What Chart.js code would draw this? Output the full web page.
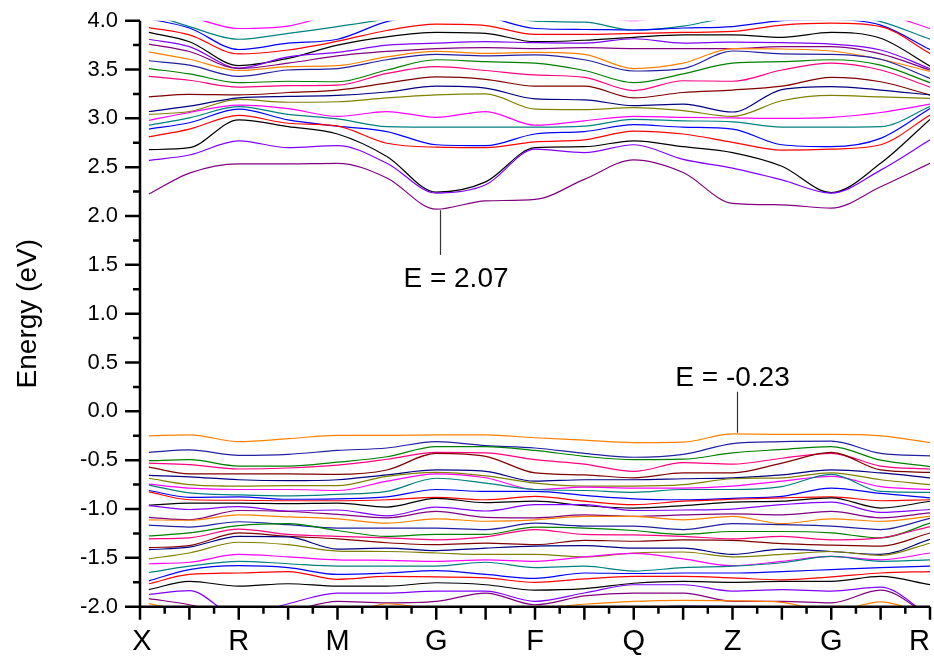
<!DOCTYPE html>
<html>
<head>
<meta charset="utf-8">
<title>Band structure</title>
<script src="https://cdn.jsdelivr.net/npm/chart.js@4.4.1/dist/chart.umd.min.js"></script>
<style>
  html, body { margin: 0; padding: 0; background: #fff; }
  #wrap { width: 934px; height: 660px; }
</style>
</head>
<body>
<div id="wrap"><canvas id="bandChart" width="934" height="660"></canvas></div>
<script>
// k-path sample positions (X=0 ... R=8) and high-symmetry labels
const kPath = [0.09, 0.5, 1, 1.5, 2, 2.5, 3, 3.5, 4, 4.5, 5, 5.5, 6, 6.5, 7, 7.5, 8];
const kLabels = ['X', 'R', 'M', 'G', 'F', 'Q', 'Z', 'G', 'R'];

// valence bands, topmost first (eV)
const valenceBands = [
  [-0.25, -0.24, -0.31, -0.28, -0.245, -0.245, -0.24, -0.24, -0.27, -0.295, -0.32, -0.315, -0.23, -0.235, -0.235, -0.25, -0.32],
  [-0.42, -0.395, -0.45, -0.44, -0.40, -0.375, -0.31, -0.35, -0.375, -0.43, -0.47, -0.44, -0.33, -0.31, -0.305, -0.43, -0.455],
  [-0.505, -0.495, -0.56, -0.56, -0.52, -0.465, -0.36, -0.36, -0.40, -0.46, -0.495, -0.49, -0.425, -0.39, -0.36, -0.50, -0.565],
  [-0.53, -0.545, -0.59, -0.58, -0.55, -0.49, -0.42, -0.425, -0.495, -0.54, -0.615, -0.525, -0.54, -0.48, -0.43, -0.56, -0.59],
  [-0.57, -0.64, -0.64, -0.64, -0.645, -0.60, -0.43, -0.46, -0.63, -0.65, -0.68, -0.63, -0.63, -0.53, -0.42, -0.60, -0.625],
  [-0.655, -0.67, -0.70, -0.71, -0.70, -0.65, -0.60, -0.615, -0.715, -0.70, -0.70, -0.69, -0.68, -0.65, -0.60, -0.63, -0.68],
  [-0.685, -0.75, -0.765, -0.76, -0.76, -0.665, -0.625, -0.66, -0.735, -0.765, -0.765, -0.75, -0.69, -0.68, -0.63, -0.70, -0.75],
  [-0.745, -0.785, -0.80, -0.80, -0.81, -0.715, -0.64, -0.68, -0.80, -0.775, -0.785, -0.785, -0.765, -0.715, -0.665, -0.77, -0.80],
  [-0.755, -0.835, -0.855, -0.865, -0.85, -0.82, -0.685, -0.735, -0.80, -0.81, -0.83, -0.80, -0.80, -0.77, -0.645, -0.82, -0.83],
  [-0.81, -0.88, -0.875, -0.90, -0.895, -0.875, -0.80, -0.82, -0.82, -0.86, -0.895, -0.905, -0.89, -0.87, -0.785, -0.84, -0.885],
  [-0.825, -0.905, -0.91, -0.915, -0.915, -0.905, -0.88, -0.905, -0.87, -0.92, -0.955, -0.92, -0.90, -0.885, -0.875, -0.915, -0.905],
  [-0.96, -0.94, -0.94, -0.945, -0.94, -0.98, -0.89, -0.935, -0.92, -0.965, -0.99, -0.965, -0.93, -0.92, -0.885, -0.99, -0.92],
  [-0.965, -1.005, -0.975, -1.02, -1.01, -1.07, -0.98, -1.02, -0.955, -0.955, -1.015, -1.01, -1.0, -0.955, -0.93, -1.035, -1.005],
  [-1.085, -1.11, -1.015, -1.025, -1.055, -1.09, -1.025, -1.085, -1.09, -1.06, -1.075, -1.06, -1.05, -1.06, -1.025, -1.09, -1.04],
  [-1.11, -1.115, -1.06, -1.08, -1.10, -1.145, -1.10, -1.125, -1.11, -1.075, -1.075, -1.11, -1.075, -1.15, -1.10, -1.125, -1.075],
  [-1.165, -1.185, -1.13, -1.16, -1.195, -1.195, -1.195, -1.21, -1.145, -1.175, -1.175, -1.21, -1.15, -1.16, -1.175, -1.21, -1.095],
  [-1.275, -1.245, -1.17, -1.15, -1.22, -1.28, -1.26, -1.26, -1.185, -1.195, -1.22, -1.26, -1.23, -1.23, -1.245, -1.295, -1.145],
  [-1.305, -1.295, -1.205, -1.26, -1.28, -1.295, -1.315, -1.285, -1.21, -1.26, -1.265, -1.28, -1.305, -1.28, -1.315, -1.295, -1.18],
  [-1.395, -1.375, -1.245, -1.28, -1.305, -1.345, -1.365, -1.35, -1.365, -1.32, -1.33, -1.315, -1.32, -1.355, -1.37, -1.38, -1.245],
  [-1.415, -1.39, -1.28, -1.285, -1.41, -1.40, -1.425, -1.40, -1.38, -1.375, -1.40, -1.40, -1.465, -1.41, -1.435, -1.465, -1.31],
  [-1.51, -1.45, -1.34, -1.365, -1.43, -1.435, -1.45, -1.465, -1.465, -1.49, -1.45, -1.44, -1.49, -1.465, -1.435, -1.475, -1.35],
  [-1.56, -1.545, -1.465, -1.49, -1.52, -1.525, -1.535, -1.52, -1.535, -1.49, -1.455, -1.51, -1.58, -1.535, -1.485, -1.52, -1.45],
  [-1.65, -1.585, -1.535, -1.56, -1.585, -1.585, -1.585, -1.545, -1.60, -1.585, -1.635, -1.60, -1.585, -1.55, -1.485, -1.535, -1.52],
  [-1.735, -1.62, -1.58, -1.60, -1.67, -1.655, -1.63, -1.67, -1.71, -1.655, -1.66, -1.655, -1.655, -1.64, -1.62, -1.60, -1.585],
  [-1.765, -1.67, -1.655, -1.64, -1.72, -1.69, -1.695, -1.705, -1.75, -1.715, -1.69, -1.69, -1.705, -1.725, -1.695, -1.655, -1.64],
  [-1.825, -1.74, -1.79, -1.765, -1.79, -1.79, -1.755, -1.775, -1.83, -1.815, -1.76, -1.74, -1.75, -1.74, -1.74, -1.69, -1.775],
  [-1.875, -1.835, -2.1, -1.97, -1.86, -1.86, -1.84, -1.84, -1.945, -1.86, -1.775, -1.775, -1.84, -1.825, -1.84, -1.80, -2.1],
  [-1.917, -1.98, -2.1, -2.05, -1.945, -1.96, -1.945, -1.86, -1.98, -1.89, -1.86, -1.86, -1.945, -1.945, -1.96, -1.83, -2.1],
  [-1.968, -2.05, -2.1, -2.1, -2.1, -1.97, -2.03, -2.05, -2.02, -1.975, -1.945, -1.935, -1.94, -1.955, -2.05, -1.95, -2.1],
  [-2.06, -2.08, -2.1, -2.1, -2.08, -2.05, -2.06, -2.04, -2.05, -2.03, -2.02, -1.995, -2.0, -2.02, -2.04, -2.06, -2.1]
];

// conduction bands, lowest first (eV)
const conductionBands = [
  [2.225, 2.44, 2.535, 2.535, 2.54, 2.39, 2.07, 2.155, 2.17, 2.375, 2.575, 2.445, 2.13, 2.115, 2.08, 2.30, 2.54],
  [2.57, 2.625, 2.77, 2.70, 2.72, 2.54, 2.235, 2.32, 2.685, 2.65, 2.73, 2.58, 2.49, 2.37, 2.235, 2.47, 2.78],
  [2.68, 2.70, 2.985, 2.915, 2.84, 2.61, 2.245, 2.35, 2.70, 2.71, 2.77, 2.71, 2.65, 2.51, 2.24, 2.54, 2.99],
  [2.81, 2.89, 3.03, 2.95, 2.92, 2.745, 2.705, 2.70, 2.76, 2.78, 2.87, 2.84, 2.755, 2.675, 2.685, 2.73, 3.035],
  [2.89, 2.955, 3.095, 2.985, 2.92, 2.865, 2.73, 2.72, 2.84, 2.865, 2.935, 2.91, 2.89, 2.73, 2.71, 2.795, 3.10],
  [2.93, 3.005, 3.12, 3.04, 2.995, 2.915, 2.91, 2.91, 2.91, 2.92, 2.99, 2.975, 2.965, 2.91, 2.91, 2.915, 3.12],
  [2.98, 3.06, 3.135, 3.10, 3.02, 3.07, 3.01, 3.07, 2.93, 2.975, 3.02, 3.01, 3.005, 3.0, 3.01, 3.06, 3.145],
  [3.04, 3.07, 3.195, 3.165, 3.17, 3.21, 3.24, 3.25, 3.095, 3.09, 3.11, 3.08, 3.02, 3.18, 3.235, 3.22, 3.205],
  [3.07, 3.125, 3.21, 3.225, 3.235, 3.27, 3.33, 3.31, 3.20, 3.19, 3.13, 3.145, 3.065, 3.295, 3.325, 3.29, 3.24],
  [3.22, 3.245, 3.24, 3.265, 3.29, 3.36, 3.425, 3.40, 3.33, 3.33, 3.21, 3.265, 3.29, 3.33, 3.42, 3.375, 3.24],
  [3.43, 3.39, 3.32, 3.335, 3.34, 3.46, 3.53, 3.49, 3.445, 3.42, 3.285, 3.385, 3.38, 3.495, 3.565, 3.495, 3.32],
  [3.51, 3.455, 3.365, 3.38, 3.375, 3.495, 3.60, 3.58, 3.565, 3.49, 3.365, 3.455, 3.565, 3.58, 3.60, 3.545, 3.365],
  [3.59, 3.545, 3.43, 3.495, 3.51, 3.60, 3.655, 3.64, 3.65, 3.60, 3.485, 3.51, 3.69, 3.66, 3.655, 3.605, 3.41],
  [3.68, 3.605, 3.49, 3.53, 3.54, 3.63, 3.685, 3.665, 3.675, 3.655, 3.51, 3.565, 3.715, 3.71, 3.69, 3.605, 3.48],
  [3.76, 3.685, 3.51, 3.565, 3.64, 3.685, 3.715, 3.725, 3.715, 3.725, 3.715, 3.715, 3.715, 3.735, 3.735, 3.66, 3.495],
  [3.81, 3.735, 3.515, 3.63, 3.675, 3.75, 3.77, 3.785, 3.775, 3.77, 3.815, 3.77, 3.78, 3.775, 3.76, 3.70, 3.51],
  [3.88, 3.785, 3.54, 3.615, 3.75, 3.835, 3.88, 3.87, 3.785, 3.80, 3.83, 3.855, 3.855, 3.83, 3.88, 3.82, 3.535],
  [3.93, 3.855, 3.66, 3.70, 3.79, 3.90, 3.965, 3.95, 3.86, 3.86, 3.87, 3.88, 3.89, 3.955, 3.975, 3.94, 3.665],
  [4.02, 3.925, 3.705, 3.77, 3.81, 3.99, 4.07, 4.04, 3.92, 3.91, 3.905, 3.925, 3.94, 4.0, 4.01, 3.955, 3.705],
  [4.075, 3.94, 3.81, 3.87, 3.94, 4.02, 4.14, 4.11, 3.995, 3.985, 3.905, 3.945, 4.04, 4.075, 4.075, 3.99, 3.81],
  [4.12, 4.04, 3.92, 3.945, 4.075, 4.14, 4.18, 4.18, 4.11, 4.06, 4.0, 4.075, 4.11, 4.11, 4.11, 4.075, 3.92]
];

// colour cycle, counted from the lowest band upwards
const bandColours = ['#2020A0', '#FF8000', '#800080', '#8000FF', '#000000', '#FF0000', '#0000FF',
                     '#008080', '#FF00FF', '#808000', '#000080', '#800000', '#FF0080', '#008000'];

const FONT = '"Liberation Sans", Arial, Helvetica, sans-serif';

// band edges that get an "E = ..." label
const cbm = conductionBands[0][kPath.indexOf(3)];
const vbm = valenceBands[0][kPath.indexOf(6)];

const allBands = valenceBands.slice().reverse().concat(conductionBands);

const datasets = allBands.map((band, i) => ({
  data: kPath.map((k, j) => ({ x: k, y: band[j] })),
  borderColor: bandColours[i % bandColours.length],
  borderWidth: 1.2,
  pointRadius: 0,
  fill: false,
  cubicInterpolationMode: 'monotone'
}));

// axis lines, major/minor ticks and the k-point names
const axisTicks = {
  id: 'axisTicks',
  afterDraw(chart) {
    const { ctx, chartArea: a, scales: { x, y } } = chart;
    ctx.save();
    ctx.strokeStyle = '#000';
    ctx.lineWidth = 2.5;
    ctx.beginPath();
    ctx.moveTo(a.left, a.top);
    ctx.lineTo(a.left, a.bottom);
    ctx.lineTo(a.right, a.bottom);
    ctx.stroke();

    ctx.lineWidth = 2.5;
    ctx.beginPath();
    for (let i = 0; i <= 24; i++) {
      const py = y.getPixelForValue(-2 + i * 0.25);
      const len = i % 2 === 0 ? 15 : 7;
      ctx.moveTo(a.left, py);
      ctx.lineTo(a.left - len, py);
    }
    for (let i = 0; i <= 32; i++) {
      const px = x.getPixelForValue(i * 0.25);
      const len = i % 2 === 0 ? 13 : 7;
      ctx.moveTo(px, a.bottom);
      ctx.lineTo(px, a.bottom + len);
    }
    ctx.stroke();

    // last name is kept inside the canvas
    ctx.fillStyle = '#000';
    ctx.font = '29px ' + FONT;
    ctx.textBaseline = 'alphabetic';
    kLabels.forEach((name, i) => {
      const last = i === kLabels.length - 1;
      ctx.textAlign = last ? 'right' : 'center';
      ctx.fillText(name, x.getPixelForValue(i) + (i === 0 ? 2 : 0), a.bottom + 43);
    });
    ctx.restore();
  }
};

// pointer lines and labels for the band edges
const edgeLabels = {
  id: 'edgeLabels',
  afterDraw(chart) {
    const { ctx, scales: { x, y } } = chart;
    ctx.save();
    ctx.strokeStyle = '#333';
    ctx.lineWidth = 1.2;
    ctx.beginPath();
    let px = Math.round(x.getPixelForValue(3.04)) + 0.5;
    ctx.moveTo(px, y.getPixelForValue(cbm - 0.01));
    ctx.lineTo(px, y.getPixelForValue(1.6));
    px = Math.round(x.getPixelForValue(6.05)) + 0.5;
    ctx.moveTo(px, y.getPixelForValue(vbm + 0.01));
    ctx.lineTo(px, y.getPixelForValue(0.2));
    ctx.stroke();

    ctx.fillStyle = '#000';
    ctx.font = '28px ' + FONT;
    ctx.textAlign = 'center';
    ctx.textBaseline = 'alphabetic';
    ctx.fillText('E = ' + cbm.toFixed(2), x.getPixelForValue(3.2), y.getPixelForValue(1.275));
    ctx.fillText('E = ' + vbm.toFixed(2), x.getPixelForValue(6.0), y.getPixelForValue(0.26));
    ctx.restore();
  }
};

const ctx = document.getElementById('bandChart').getContext('2d');
const grafico = new Chart(ctx, {
  type: 'line',
  data: { datasets },
  options: {
    responsive: false,
    animation: false,
    devicePixelRatio: 1,
    events: [],
    parsing: false,
    layout: { padding: { top: 20.7, right: 4, left: 0, bottom: 0 } },
    plugins: { legend: { display: false }, tooltip: { enabled: false } },
    scales: {
      x: {
        type: 'linear',
        min: 0,
        max: 8,
        grid: { display: false, drawTicks: false },
        border: { display: false },
        ticks: { display: false, stepSize: 1 },
        afterFit: s => { s.height = 53.3; s.paddingLeft = 0; s.paddingRight = 0; }
      },
      y: {
        min: -2,
        max: 4,
        grid: { display: false, drawTicks: false },
        border: { display: false },
        ticks: {
          stepSize: 0.5,
          padding: 22,
          color: '#000',
          font: { family: FONT, size: 22 },
          callback: v => Number(v).toFixed(1)
        },
        title: {
          display: true,
          text: 'Energy (eV)',
          color: '#000',
          font: { family: FONT, size: 28 },
          padding: { top: 11, bottom: 0 }
        },
        afterFit: s => { s.width = 140; s.paddingTop = 0; s.paddingBottom = 0; }
      }
    }
  },
  plugins: [axisTicks, edgeLabels]
});
</script>
</body>
</html>
